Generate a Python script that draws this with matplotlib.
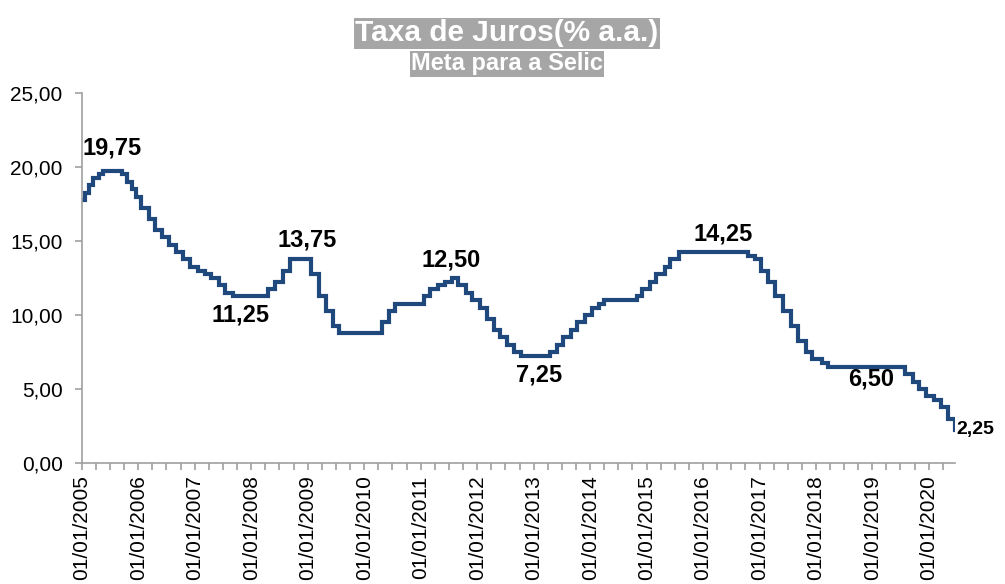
"""
Taxa de Juros (% a.a.) - Meta para a Selic, 2005 a jun/2020.
Degraus nas datas das reuniões do Copom.
"""
import matplotlib
matplotlib.use("Agg")
import matplotlib.pyplot as plt
import matplotlib.dates as mdates
import pandas as pd

plt.rcParams["font.family"] = ["Liberation Sans", "DejaVu Sans"]

# --- data: Copom decisions (date, new target) ---
dates = ["2005-01-01", "2005-01-19", "2005-02-16", "2005-03-16", "2005-04-20", "2005-05-18",
         "2005-09-14", "2005-10-19", "2005-11-23", "2005-12-14",
         "2006-01-18", "2006-03-08", "2006-04-19", "2006-05-31", "2006-07-19", "2006-08-30",
         "2006-10-18", "2006-11-29",
         "2007-01-24", "2007-03-07", "2007-04-18", "2007-06-06", "2007-07-18", "2007-09-05",
         "2008-04-16", "2008-06-04", "2008-07-23", "2008-09-10",
         "2009-01-21", "2009-03-11", "2009-04-29", "2009-06-10", "2009-07-22",
         "2010-04-28", "2010-06-09", "2010-07-21",
         "2011-01-19", "2011-03-02", "2011-04-20", "2011-06-08", "2011-07-20", "2011-08-31",
         "2011-10-19", "2011-11-30",
         "2012-01-18", "2012-03-07", "2012-04-18", "2012-05-30", "2012-07-11", "2012-08-29",
         "2012-10-10",
         "2013-04-17", "2013-05-29", "2013-07-10", "2013-08-28", "2013-10-09", "2013-11-27",
         "2014-01-15", "2014-02-26", "2014-04-02", "2014-10-29", "2014-12-03",
         "2015-01-21", "2015-03-04", "2015-04-29", "2015-06-03", "2015-07-29",
         "2016-10-19", "2016-11-30",
         "2017-01-11", "2017-02-22", "2017-04-12", "2017-05-31", "2017-07-26", "2017-09-06",
         "2017-10-25", "2017-12-06",
         "2018-02-07", "2018-03-21",
         "2019-07-31", "2019-09-18", "2019-10-30", "2019-12-11",
         "2020-02-05", "2020-03-18", "2020-05-06", "2020-06-17", "2020-06-18"]
selic = [17.75, 18.25, 18.75, 19.25, 19.50, 19.75,
         19.50, 19.00, 18.50, 18.00,
         17.25, 16.50, 15.75, 15.25, 14.75, 14.25,
         13.75, 13.25,
         13.00, 12.75, 12.50, 12.00, 11.50, 11.25,
         11.75, 12.25, 13.00, 13.75,
         12.75, 11.25, 10.25, 9.25, 8.75,
         9.50, 10.25, 10.75,
         11.25, 11.75, 12.00, 12.25, 12.50, 12.00,
         11.50, 11.00,
         10.50, 9.75, 9.00, 8.50, 8.00, 7.50,
         7.25,
         7.50, 8.00, 8.50, 9.00, 9.50, 10.00,
         10.50, 10.75, 11.00, 11.25, 11.75,
         12.25, 12.75, 13.25, 13.75, 14.25,
         14.00, 13.75,
         13.00, 12.25, 11.25, 10.25, 9.25, 8.25,
         7.50, 7.00,
         6.75, 6.50,
         6.00, 5.50, 5.00, 4.50,
         4.25, 3.75, 3.00, 2.25, 2.25]

# highlighted values and where their labels sit
label_dates = ["2005-07-13", "2007-10-22", "2008-12-28", "2011-07-18",
               "2013-02-06", "2016-05-08", "2018-12-20", "2020-06-25"]
label_vals = [19.75, 11.25, 13.75, 12.50, 7.25, 14.25, 6.50, 2.25]
label_y = [21.3, 10.0, 15.05, 13.7, 5.95, 15.45, 5.68, 2.23]

x = pd.to_datetime(dates)

fig = plt.figure(figsize=(10.05, 5.84), dpi=100)
ax = fig.add_axes([0.0816, 0.2072, 0.8687, 0.6336])

ax.plot(x, selic, drawstyle="steps-post", color="#1f497d", lw=3.0,
        solid_joinstyle="miter")

for i, (d, v, yy) in enumerate(zip(label_dates, label_vals, label_y)):
    last = i == len(label_vals) - 1
    ax.text(pd.Timestamp(d), yy, f"{v:.2f}".replace(".", ","),
            ha="left" if last else "center", va="center",
            fontsize=14 if last else 17, fontweight="bold", color="black")

ax.set_xlim(pd.Timestamp("2005-01-01"), pd.Timestamp("2020-06-18"))
ax.set_ylim(0, 25)
yt = [0, 5, 10, 15, 20, 25]
ax.set_yticks(yt)
ax.set_yticklabels([f"{v:.2f}".replace(".", ",") for v in yt])

ax.xaxis.set_major_locator(mdates.YearLocator())
ax.xaxis.set_minor_locator(mdates.MonthLocator(bymonth=[4, 7, 10]))
ax.xaxis.set_major_formatter(mdates.DateFormatter("%d/%m/%Y"))
plt.setp(ax.get_xticklabels(), rotation=90, ha="center", va="top")

for s in ["top", "right"]:
    ax.spines[s].set_visible(False)
for s in ["left", "bottom"]:
    ax.spines[s].set_color("#a0a0a0")
    ax.spines[s].set_linewidth(1.2)

ax.tick_params(axis="both", which="both", direction="out", color="#a0a0a0", width=1.2)
ax.tick_params(axis="y", which="major", length=5, pad=9, labelsize=15)
ax.tick_params(axis="x", which="major", length=5, pad=4, labelsize=15)
ax.tick_params(axis="x", which="minor", length=5)

# title boxes (white text on gray)
fig.text(0.5045, 0.943, "Taxa de Juros(% a.a.)", ha="center", va="center",
         fontsize=21.5, fontweight="bold", color="white",
         bbox=dict(facecolor="#a6a6a6", edgecolor="none", pad=1.0))
fig.text(0.5045, 0.891, "Meta para a Selic", ha="center", va="center",
         fontsize=17, fontweight="bold", color="white",
         bbox=dict(facecolor="#a6a6a6", edgecolor="none", pad=1.0))

fig.savefig("out.png", dpi=100)
